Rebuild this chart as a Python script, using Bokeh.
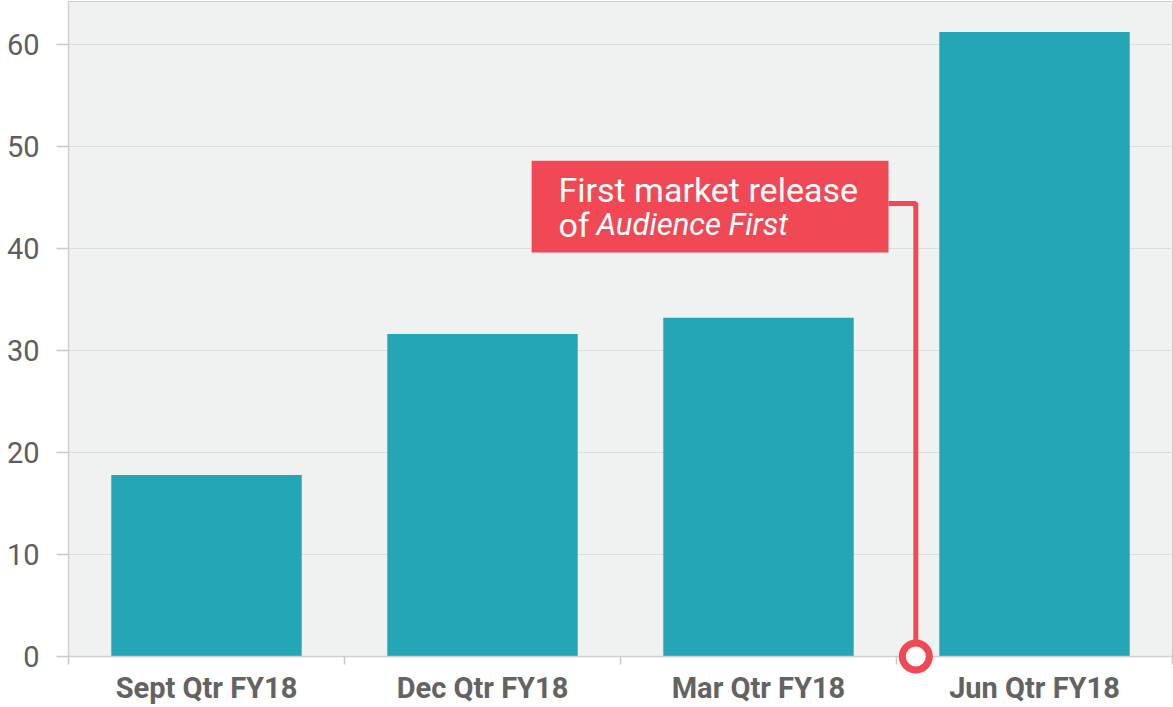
from bokeh.plotting import figure
from bokeh.models import (Range1d, FixedTicker, CustomJSTickFormatter, BoxAnnotation,
                          Label, ColumnDataSource)
from bokeh.embed import file_html
from bokeh.resources import INLINE

# ---- data ----
categories = ["Sept Qtr FY18", "Dec Qtr FY18", "Mar Qtr FY18", "Jun Qtr FY18"]
values = [17.8, 31.6, 33.2, 61.2]
y_ticks = [0, 10, 20, 30, 40, 50, 60]
note_line1 = "First market release"
note_line2a = "of"
note_line2b = "Audience First"

# ---- styles ----
BAR = "#24a6b6"
RED = "#f04955"
BG = "#f0f2f1"
GRID = "#dcdedd"
EDGE = "#cfcfcf"
FONT = "Roboto"

n = len(categories)
centers = [i + 0.5 for i in range(n)]
bounds = [i for i in range(n + 1)]

p = figure(width=1173, height=707, output_backend="svg", toolbar_location=None,
           x_range=Range1d(0, n), y_range=Range1d(0, 64.2),
           min_border_left=68, min_border_right=1, min_border_top=1, min_border_bottom=46)
p.background_fill_color = BG
p.border_fill_color = "white"
p.outline_line_color = EDGE
p.outline_line_width = 1

src = ColumnDataSource(dict(x=centers, top=values, cat=categories))
p.vbar(x="x", top="top", bottom=0, width=0.69, source=src, fill_color=BAR, line_color=None)

# grid
p.xgrid.grid_line_color = None
p.ygrid.grid_line_color = GRID
p.ygrid.grid_line_width = 1.2

# y axis
ya = p.yaxis[0]
ya.ticker = FixedTicker(ticks=y_ticks)
ya.axis_line_color = EDGE
ya.axis_line_width = 1.5
ya.major_tick_line_color = "#c8c8c8"
ya.major_tick_line_width = 1.5
ya.major_tick_out = 12
ya.major_tick_in = 0
ya.minor_tick_line_color = None
ya.major_label_standoff = 17
ya.major_label_text_font = FONT
ya.major_label_text_font_size = "29px"
ya.major_label_text_color = "#5e5e5e"

# x axis
xa = p.xaxis[0]
xa.ticker = FixedTicker(ticks=centers, minor_ticks=bounds)
xa.formatter = CustomJSTickFormatter(args=dict(labels=categories),
                                     code="return labels[Math.floor(tick)];")
xa.axis_line_color = EDGE
xa.axis_line_width = 1.5
xa.major_tick_line_color = None
xa.major_tick_out = 8
xa.major_tick_in = 0
xa.minor_tick_line_color = "#c8c8c8"
xa.minor_tick_line_width = 1.5
xa.minor_tick_out = 8
xa.minor_tick_in = 0
xa.major_label_standoff = 6
xa.major_label_text_font = FONT
xa.major_label_text_font_style = "bold"
xa.major_label_text_font_size = "29px"
xa.major_label_text_color = "#636363"

# ---- annotation ----
conn_x = 3.07
conn_y = 44.4
box_left, box_right, box_bottom, box_top = 1.678, 2.971, 39.6, 48.6

p.line(x=[conn_x, conn_x, box_right], y=[0, conn_y, conn_y], line_color=RED,
       line_width=5, level="overlay")
p.add_layout(BoxAnnotation(left=box_left, right=box_right, bottom=box_bottom, top=box_top,
                           fill_color=RED, fill_alpha=1, line_color=None, level="overlay"))
p.scatter(x=[conn_x], y=[0], size=27, marker="circle", fill_color="white",
          line_color=RED, line_width=7, level="overlay")

text_x = 1.775
p.add_layout(Label(x=text_x, y=45.7, text=note_line1, text_font=FONT, text_font_size="34px",
                   text_color="white", text_baseline="alphabetic", level="overlay"))
p.add_layout(Label(x=text_x, y=42.3, text=note_line2a, text_font=FONT, text_font_size="34px",
                   text_color="white", text_baseline="alphabetic", level="overlay"))
p.add_layout(Label(x=text_x, y=42.3, x_offset=38, text=note_line2b, text_font=FONT,
                   text_font_size="31px", text_font_style="italic",
                   text_color="white", text_baseline="alphabetic", level="overlay"))

open("out.html", "w").write(file_html(p, INLINE))
